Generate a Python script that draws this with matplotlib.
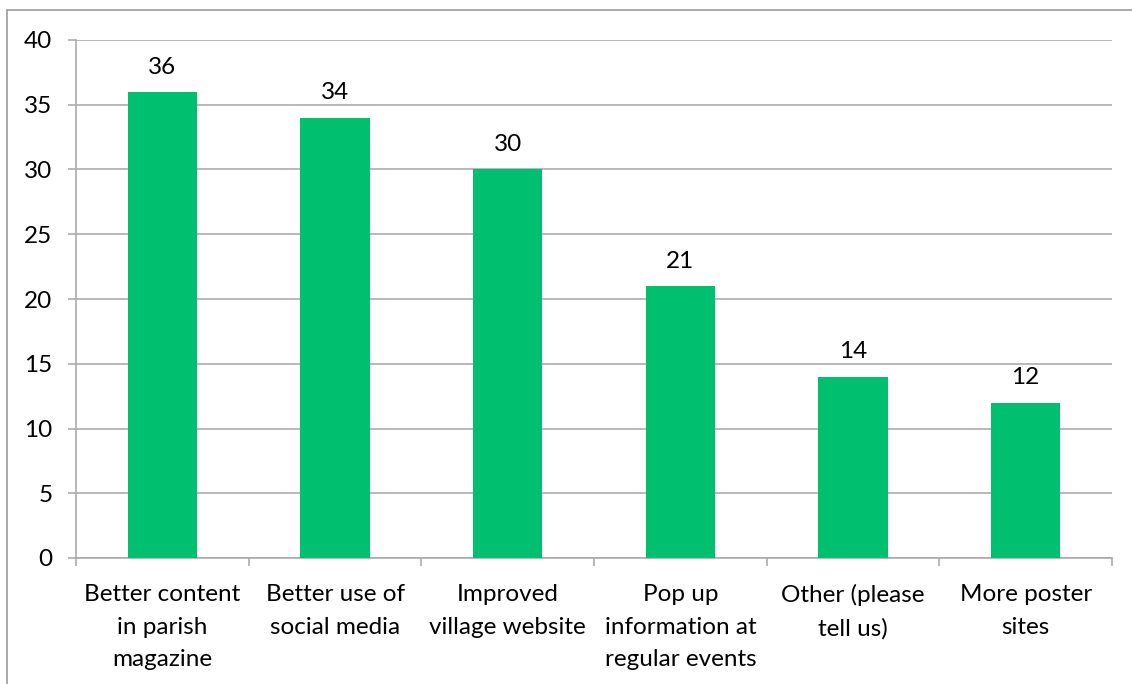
import matplotlib.pyplot as plt
from matplotlib.patches import Rectangle

categories = ['Better content\nin parish\nmagazine', 'Better use of\nsocial media',
              'Improved\nvillage website', 'Pop up\ninformation at\nregular events',
              'Other (please\ntell us)', 'More poster\nsites']
values = [36, 34, 30, 21, 14, 12]
yticks = [0, 5, 10, 15, 20, 25, 30, 35, 40]

plt.rcParams['font.family'] = ['Lato', 'DejaVu Sans']
fs = 17.5

fig = plt.figure(figsize=(11.32, 6.84), dpi=100)
fig.patches.append(Rectangle((7 / 1132, -0.1), 1.2, (684 - 10) / 684 + 0.1,
                             transform=fig.transFigure, fill=False,
                             edgecolor='#999999', linewidth=1.2))
ax = fig.add_axes([76 / 1132, 1 - 558 / 684, (1112 - 76) / 1132, (558 - 40) / 684])

x = list(range(len(values)))
ax.bar(x, values, width=0.4, color='#00BF6F', zorder=3)
for xi, v in zip(x, values):
    ax.text(xi, v + 1.1, str(v), ha='center', va='bottom', fontsize=fs)

ax.set_xlim(-0.5, len(values) - 0.5)
ax.set_ylim(0, 40)
ax.set_yticks(yticks)
ax.set_yticklabels([str(t) for t in yticks], fontsize=fs)
ax.yaxis.grid(True, color='#ABABAB', linewidth=1.2, zorder=0)
ax.tick_params(axis='y', length=6, color='#ABABAB', width=1.2, pad=11)

ax.set_xticks(x)
ax.set_xticklabels(categories, fontsize=fs, linespacing=1.67)
ax.tick_params(axis='x', length=0, pad=19)
ax.set_xticks([i - 0.5 for i in range(len(values) + 1)], minor=True)
ax.tick_params(axis='x', which='minor', length=6, color='#ABABAB', width=1.2)

for s in ['top', 'right']:
    ax.spines[s].set_visible(False)
for s in ['left', 'bottom']:
    ax.spines[s].set_color('#ABABAB')
    ax.spines[s].set_linewidth(1.2)

fig.savefig('out.png', dpi=100)
